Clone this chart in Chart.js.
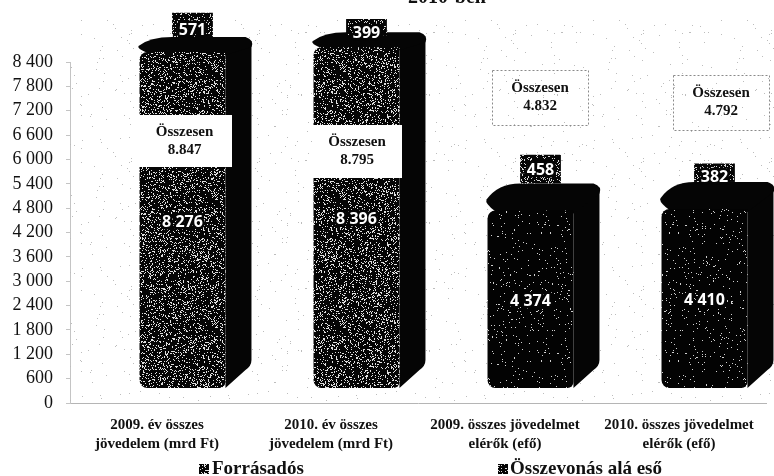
<!DOCTYPE html>
<html>
<head>
<meta charset="utf-8">
<title>Összes jövedelem</title>
<script src="https://cdn.jsdelivr.net/npm/chart.js@4/dist/chart.umd.js"></script>
<style>
html,body{margin:0;padding:0;background:#fff;overflow:hidden}
canvas{display:block}
</style>
</head>
<body>
<canvas id="myChart" width="774" height="476"></canvas>
<script>
// data
let categories=[
    ['2009. év összes','jövedelem (mrd Ft)'],
    ['2010. év összes','jövedelem (mrd Ft)'],
    ['2009. összes jövedelmet','elérők (efő)'],
    ['2010. összes jövedelmet','elérők (efő)']
];
let seriesNames=['Forrásadós','Összevonás alá eső'];
let forrasados=[8276,8396,4374,4410];
let osszevonas=[571,399,458,382];
let totals=['8.847','8.795','4.832','4.792'];
let totalWord='Összesen';
let titleText='2010-ben';
let emptyStack=[0,0,0,0];

// hand placed bits of the original, not data
let totalBoxes=[
    {x:137,y:115,w:95,h:52,solid:true},
    {x:312,y:125,w:90,h:53,solid:true},
    {x:492,y:70,w:96,h:55,solid:false},
    {x:673,y:75,w:96,h:55,solid:false}
];
let capDepth=[15,15,27,27];
let stubLift=[16,12,37,30];
let depthX=26;
let depthY=22;
let stubShift=10;

// scanned look: black with white specks (small fixed generator so it never changes)
let seed=12345;
function nextNoise(){
    seed=(seed*1103515245+12345)%2147483648;
    return seed/2147483648;
}
function makeNoise(ink,speck,amount){
    let c=document.createElement('canvas');
    c.width=c.height=128;
    let g=c.getContext('2d');
    if(ink){ g.fillStyle=ink; g.fillRect(0,0,128,128); }
    g.fillStyle=speck;
    for(let i=0;i<128*128*amount;i++){
        g.fillRect(Math.floor(nextNoise()*128),Math.floor(nextNoise()*128),1,1);
    }
    return document.getElementById('myChart').getContext('2d').createPattern(c,'repeat');
}
let denseNoise=makeNoise('#050505','#e0e0e0',0.2);
let sparseNoise=makeNoise('#030303','#d0d0d0',0.03);
let stubNoise=makeNoise('#050505','#d8d8d8',0.18);
let paperNoise=makeNoise(null,'#bdbdbd',0.007);

function groupThousands(value){
    return String(value).replace(/(\d)(\d{3})$/,'$1 $2');
}

function drawDepth(ctx,bar,i){
    let xl=bar.x-bar.width/2;
    let xr=bar.x+bar.width/2;
    let top=bar.y;
    let d=capDepth[i];
    ctx.fillStyle='#050505';
    // side
    ctx.beginPath();
    ctx.moveTo(xr,bar.base);
    ctx.lineTo(xr+depthX-6,bar.base-depthY+4);
    ctx.quadraticCurveTo(xr+depthX,bar.base-depthY,xr+depthX,bar.base-depthY-6);
    ctx.lineTo(xr+depthX,top-d+4);
    ctx.lineTo(xr,top);
    ctx.closePath();
    ctx.fill();
    // top
    ctx.beginPath();
    ctx.moveTo(xl+8,top+1);
    ctx.quadraticCurveTo(xl-3,top-d*0.25,xl-1,top-d*0.4);
    ctx.quadraticCurveTo(xl+bar.width*0.12,top-d,xl+bar.width*0.38,top-d);
    ctx.lineTo(xr+depthX-6,top-d);
    ctx.quadraticCurveTo(xr+depthX+3,top-d+3,xr+depthX,top-d+10);
    ctx.lineTo(xr,top+3);
    ctx.closePath();
    ctx.fill();
}

function drawTotalBox(ctx,box,text){
    if(box.solid){
        ctx.fillStyle='#fff';
        ctx.fillRect(box.x,box.y,box.w,box.h);
    }else{
        ctx.save();
        ctx.strokeStyle='#8a8a8a';
        ctx.lineWidth=1;
        ctx.setLineDash([2,2]);
        ctx.strokeRect(box.x+0.5,box.y+0.5,box.w,box.h);
        ctx.restore();
    }
    ctx.fillStyle='#111';
    ctx.font='bold 15px "Liberation Serif"';
    ctx.textAlign='center';
    ctx.textBaseline='middle';
    ctx.fillText(totalWord,box.x+box.w/2,box.y+box.h/2-9);
    ctx.fillText(text,box.x+box.w/2,box.y+box.h/2+9);
}

function drawBarLabel(ctx,text,x,y){
    ctx.strokeStyle='#050505';
    ctx.lineWidth=5;
    ctx.lineJoin='round';
    ctx.strokeText(text,x,y);
    ctx.fillStyle='#fff';
    ctx.fillText(text,x,y);
}

let handDrawn={
    id:'handDrawn',
    beforeDatasetsDraw(chart){
        let ctx=chart.ctx;
        ctx.save();
        ctx.fillStyle=paperNoise;
        ctx.fillRect(chart.chartArea.left,20,chart.width-chart.chartArea.left,chart.chartArea.bottom-22);
        chart.getDatasetMeta(1).data.forEach(function(bar,i){ drawDepth(ctx,bar,i); });
        ctx.restore();
    },
    // the small top bars stand back on the lid, so each is moved before it is drawn
    beforeDatasetDraw(chart,args){
        if(args.index!==2){ return; }
        let ctx=chart.ctx;
        args.meta.data.forEach(function(bar,i){
            ctx.save();
            ctx.translate(stubShift,-stubLift[i]);
            let neck=stubLift[i]-capDepth[i];
            if(neck>0){
                ctx.fillStyle=stubNoise;
                ctx.fillRect(bar.x-bar.width/2,bar.base,bar.width,neck);
            }
            bar.draw(ctx);
            ctx.restore();
        });
        return false;
    },
    afterDatasetsDraw(chart){
        let ctx=chart.ctx;
        ctx.save();
        ctx.font='bold 16px "Open Sans"';
        ctx.textAlign='center';
        ctx.textBaseline='middle';
        chart.getDatasetMeta(1).data.forEach(function(bar,i){
            drawBarLabel(ctx,groupThousands(forrasados[i]),bar.x,(bar.y+bar.base)/2+2);
        });
        chart.getDatasetMeta(2).data.forEach(function(bar,i){
            drawBarLabel(ctx,String(osszevonas[i]),bar.x+stubShift,bar.y-stubLift[i]+(bar.base-bar.y)/2+6);
        });
        totalBoxes.forEach(function(box,i){ drawTotalBox(ctx,box,totals[i]); });

        ctx.fillStyle='#111';
        ctx.font='bold 20px "Liberation Serif"';
        ctx.textBaseline='alphabetic';
        ctx.fillText(titleText,447,3);

        // legend, the two entries sit far apart in the original
        ctx.font='bold 19px "Liberation Serif"';
        ctx.textAlign='left';
        ctx.textBaseline='middle';
        ctx.fillStyle=denseNoise;
        ctx.fillRect(199,464,10,10);
        ctx.fillStyle='#111';
        ctx.fillText(seriesNames[0],212,469);
        ctx.fillStyle=stubNoise;
        ctx.fillRect(498,464,10,10);
        ctx.fillStyle='#111';
        ctx.fillText(seriesNames[1],510,469);
        ctx.restore();
    }
};

let chart=new Chart(document.getElementById('myChart').getContext('2d'),{
    type:'bar',
    data:{
        labels:categories,
        datasets:[
            // empty stack on the left pushes the bars to the right of their labels
            {label:'',data:emptyStack,stack:'gap',yAxisID:'yBars',backgroundColor:'transparent',categoryPercentage:0.586,barPercentage:1},
            {label:seriesNames[0],data:forrasados,stack:'main',yAxisID:'yBars',clip:false,
             backgroundColor:[denseNoise,denseNoise,sparseNoise,sparseNoise],
             categoryPercentage:0.586,barPercentage:1.686,
             borderSkipped:false,borderRadius:{topLeft:8,topRight:0,bottomLeft:8,bottomRight:6}},
            {label:seriesNames[1],data:osszevonas,stack:'main',yAxisID:'yBars',clip:false,
             backgroundColor:stubNoise,categoryPercentage:0.586,barPercentage:0.8}
        ]
    },
    options:{
        responsive:false,
        animation:false,
        layout:{padding:{top:62,right:8,bottom:18,left:0}},
        plugins:{legend:{display:false},tooltip:{enabled:false}},
        scales:{
            x:{
                grid:{display:false},
                border:{color:'#b5b5b5',dash:[2,2]},
                ticks:{color:'#111',font:{family:'"Liberation Serif"',size:15,weight:'bold',lineHeight:1.27},padding:5,maxRotation:0,autoSkip:false},
                afterFit(scale){ scale.height=55; }
            },
            y:{
                min:0,
                max:8400,
                grid:{drawOnChartArea:false,color:'#c4c4c4',tickLength:4},
                border:{color:'#c4c4c4',dash:[2,2]},
                ticks:{
                    stepSize:600,
                    autoSkip:false,
                    color:'#111',
                    padding:13,
                    font:{family:'"Liberation Serif"',size:18},
                    callback:function(value){ return groupThousands(value); }
                },
                afterFit(scale){ scale.width=70; }
            },
            // same size as y, but the bars stand 15px higher because of the 3D floor
            yBars:{axis:'y',display:false,stacked:true,min:-370,max:8030}
        }
    },
    plugins:[handDrawn]
});
</script>
</body>
</html>
